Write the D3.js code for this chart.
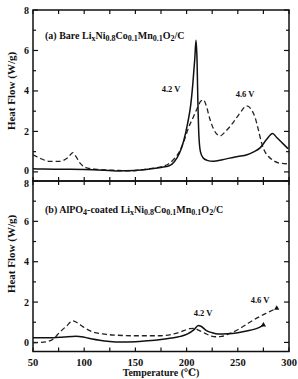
<!DOCTYPE html>
<html><head><meta charset="utf-8">
<script src="https://cdnjs.cloudflare.com/ajax/libs/d3/7.8.5/d3.min.js"></script>
<style>body{margin:0;background:#fff}svg{display:block}text{font-family:"Liberation Serif","DejaVu Serif",serif;font-weight:bold;fill:#111}</style>
</head><body><svg id="c" width="298" height="379"></svg>
<script>
const xTicks = [50, 100, 150, 200, 250, 300];
const yTicks = [0, 2, 4, 6, 8];
// panel (a) bare
const aSolidT = [50,60,80,100,120,131,150,165,175,183,188,193,197,201,204,206,208,209.2,210.2,211,212,213.5,216,220,226,235,242,250,259,265,272,278,284,288,292,299];
const aSolidH = [0.15,0.14,0.13,0.12,0.08,0.05,0.07,0.15,0.22,0.3,0.5,0.92,1.5,2.4,3.3,4.3,5.6,6.5,5.5,3.5,1.8,1.0,0.7,0.57,0.52,0.6,0.68,0.76,0.85,0.98,1.2,1.6,1.9,1.7,1.5,1.15];
const aDashT = [50,58,66,76,84,89,92,96,100,105,115,130,145,155,170,177,182,187,193,198,202,206.5,210,214,216.5,219,222.8,227,232.6,238,245.6,252,258.7,263,266.8,270,273.3,277,280,285,291,299];
const aDashH = [0.85,0.65,0.52,0.52,0.7,0.95,0.75,0.43,0.25,0.17,0.12,0.08,0.05,0.1,0.2,0.28,0.38,0.6,1.0,1.6,2.2,2.7,3.1,3.5,3.56,3.3,2.6,2.05,1.78,2.0,2.45,2.9,3.26,3.1,2.7,2.1,1.42,0.95,0.76,0.55,0.43,0.4];
// panel (b) AlPO4-coated
const bSolidT = [50,70,80,92,100,108,115,125,135,150,162,175,185,194,201,207,211.5,214,219,225,231,240,250,262,270,275];
const bSolidH = [0.23,0.23,0.27,0.31,0.26,0.17,0.11,0.05,0.02,0.03,0.08,0.15,0.22,0.3,0.42,0.62,0.84,0.8,0.6,0.48,0.42,0.43,0.48,0.6,0.72,0.86];
const bDashT = [50,63,70,76,82.5,89,94,99,108,118,131,150,175,193,203,207,212,218,224,228,234,241,252,260,268,278,288];
const bDashH = [-0.02,0.03,0.18,0.5,0.8,1.07,0.95,0.77,0.53,0.42,0.36,0.33,0.33,0.5,0.68,0.7,0.6,0.45,0.32,0.28,0.3,0.42,0.69,0.95,1.19,1.45,1.69];

const svg = d3.select("#c");
const L = 33, R = 289;
const x = d3.scaleLinear().domain([50, 300]).range([L, R]);
const panels = [
  {top: 10, bot: 181, sT: aSolidT, sH: aSolidH, dT: aDashT, dH: aDashH, ends: false,
   title: [["(a) Bare Li",0],["x",1],["Ni",0],["0.8",1],["Co",0],["0.1",1],["Mn",0],["0.1",1],["O",0],["2",1],["/C",0]],
   ty: 39, labels: [[171, 92, "4.2 V"], [245, 97, "4.6 V"]], ylab: 91},
  {top: 181, bot: 351.5, sT: bSolidT, sH: bSolidH, dT: bDashT, dH: bDashH, ends: true,
   title: [["(b) AlPO",0],["4",1],["-coated Li",0],["x",1],["Ni",0],["0.8",1],["Co",0],["0.1",1],["Mn",0],["0.1",1],["O",0],["2",1],["/C",0]],
   ty: 213, labels: [[203, 316, "4.2 V"], [260, 303, "4.6 V"]], ylab: 254}
];
panels.forEach((p, i) => {
  const y = d3.scaleLinear().domain([-0.45, 8]).range([p.bot, p.top]);
  const g = svg.append("g");
  const tk = d3.range(50, 301, 25);
  tk.forEach(t => {
    const len = 4;
    g.append("line").attr("x1", x(t)).attr("x2", x(t)).attr("y1", p.top).attr("y2", p.top + len).attr("stroke", "#111").attr("stroke-width", 1.2);
    g.append("line").attr("x1", x(t)).attr("x2", x(t)).attr("y1", p.bot).attr("y2", p.bot - len).attr("stroke", "#111").attr("stroke-width", 1.2);
  });
  d3.range(0, 9, 1).forEach(v => {
    const len = v % 2 === 0 ? 5 : 3;
    g.append("line").attr("x1", L).attr("x2", L + len).attr("y1", y(v)).attr("y2", y(v)).attr("stroke", "#111").attr("stroke-width", 1.2);
    g.append("line").attr("x1", R).attr("x2", R - len).attr("y1", y(v)).attr("y2", y(v)).attr("stroke", "#111").attr("stroke-width", 1.2);
  });
  g.append("rect").attr("x", L).attr("y", p.top).attr("width", R - L).attr("height", p.bot - p.top)
    .attr("fill", "none").attr("stroke", "#111").attr("stroke-width", 1.5);
  yTicks.forEach(v => {
    const off = (i === 0 && v === 0) ? -1 : (i === 1 && v === 8) ? 2 : 0;
    g.append("text").attr("x", 29).attr("y", y(v) + off).attr("dy", "0.35em").attr("text-anchor", "end")
      .attr("font-size", 10).text(v);
  });
  g.append("text").attr("transform", `translate(15,${p.ylab}) rotate(-90)`).attr("text-anchor", "middle")
    .attr("font-size", 11).text("Heat Flow (W/g)");
  const line = d3.line().curve(d3.curveMonotoneX).x(d => x(d[0])).y(d => y(d[1]));
  const sd = p.sT.map((t, k) => [t, p.sH[k]]);
  const dd = p.dT.map((t, k) => [t, p.dH[k]]);
  g.append("path").attr("d", line(dd)).attr("fill", "none").attr("stroke", "#222").attr("stroke-width", 1.3).attr("stroke-dasharray", "5,3");
  g.append("path").attr("d", line(sd)).attr("fill", "none").attr("stroke", "#111").attr("stroke-width", 1.5);
  if (p.ends) {
    [sd[sd.length - 1], dd[dd.length - 1]].forEach(d => {
      g.append("path").attr("d", d3.symbol(d3.symbolTriangle, 12)()).attr("transform", `translate(${x(d[0])},${y(d[1])})`).attr("fill", "#111");
    });
  }
  const tt = g.append("text").attr("x", 45).attr("y", p.ty).attr("font-size", 10);
  p.title.forEach(([s, sub]) => {
    const ts = tt.append("tspan").text(s);
    if (sub) ts.attr("font-size", 8).attr("baseline-shift", "-25%");
  });
  p.labels.forEach(([lx, ly, s]) => {
    g.append("text").attr("x", lx).attr("y", ly).attr("text-anchor", "middle").attr("font-size", 8.5).text(s);
  });
});
xTicks.forEach(t => {
  svg.append("text").attr("x", x(t)).attr("y", 366).attr("text-anchor", "middle").attr("font-size", 10.5).text(t);
});
svg.append("text").attr("x", 161).attr("y", 376).attr("text-anchor", "middle").attr("font-size", 10).text("Temperature (℃)");
</script></body></html>
